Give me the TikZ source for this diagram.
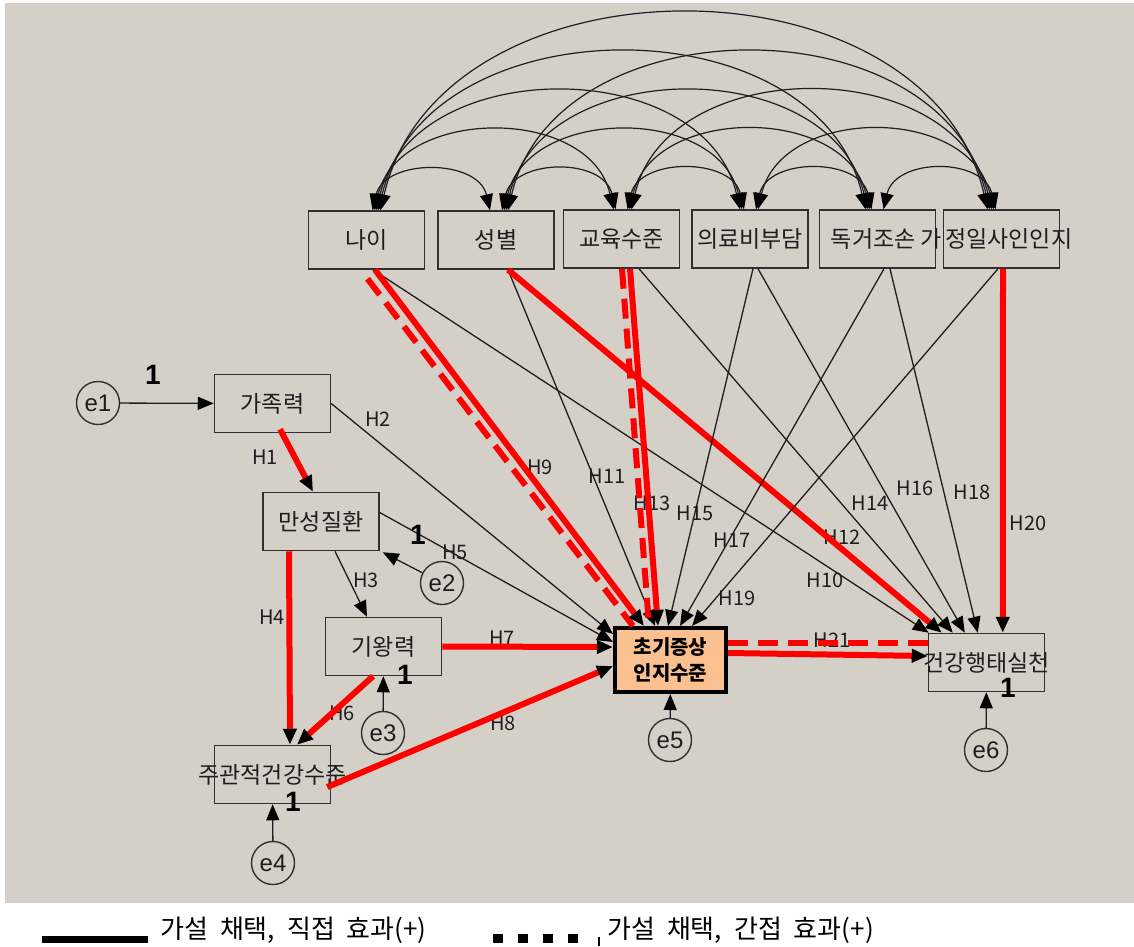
\documentclass[tikz,border=0pt]{standalone}
\usepackage{fontspec}
\setmainfont{Noto Sans CJK KR}
\newfontfamily\numfont{Liberation Sans}
\usetikzlibrary{arrows.meta,calc}
\definecolor{panel}{HTML}{D4D0C8}
\definecolor{peach}{HTML}{FAC090}
\definecolor{edge}{HTML}{303030}
\definecolor{hyp}{HTML}{FF0000}
\definecolor{ink}{HTML}{1E1E1E}
\tikzset{
  headtip/.tip={Triangle[length=16pt,width=13pt,color=black]},
}
\begin{document}
\begin{tikzpicture}[x=1pt,y=-1pt,
  var/.style={draw=edge, line width=1.5pt, fill=panel, minimum width=116pt,
    minimum height=58pt, inner sep=0pt},
  boxtxt/.style={font=\fontsize{23}{23}\selectfont, text=ink, inner sep=0pt},
  focal/.style={draw=black, line width=4pt, fill=peach, minimum width=111pt,
    minimum height=64pt, inner sep=0pt, align=center,
    font=\bfseries\fontsize{20}{26}\selectfont},
  err/.style={draw=edge, circle, line width=1.4pt, minimum size=43pt, inner sep=0pt,
    font=\numfont\fontsize{24}{24}\selectfont, text=ink},
  hlab/.style={font=\fontsize{20}{20}\selectfont, text=ink, inner sep=0pt},
  one/.style={font=\numfont\bfseries\fontsize{28}{28}\selectfont, inner sep=0pt},
  thinpath/.style={draw=ink, line width=1.3pt, arrows=-headtip},
  redpath/.style={draw=hyp, line width=6pt, arrows=-headtip},
  reddash/.style={draw=hyp, line width=6pt, dash pattern=on 20pt off 10pt},
  cov/.style={draw=ink, line width=1.2pt, arrows=headtip-headtip},
  legtxt/.style={font=\fontsize{26}{26}\selectfont, inner sep=0pt, anchor=west},
]
\useasboundingbox (0,0) rectangle (1134,946);
\fill[panel] (5,3) rectangle (1134,903);

% path labels (drawn first so the paths run over them)
\node[hlab] (h1) at (265,457) {H1};
\node[hlab] (h2) at (378,419) {H2};
\node[hlab] (h3) at (366,580) {H3};
\node[hlab] (h4) at (272,617) {H4};
\node[hlab] (h5) at (455,552) {H5};
\node[hlab] (h6) at (342,713) {H6};
\node[hlab] (h7) at (502,638) {H7};
\node[hlab] (h8) at (503,723) {H8};
\node[hlab] (h9) at (540,467) {H9};
\node[hlab] (h10) at (825,580) {H10};
\node[hlab] (h11) at (607,476) {H11};
\node[hlab] (h12) at (842,537) {H12};
\node[hlab] (h13) at (652,503) {H13};
\node[hlab] (h14) at (870,503) {H14};
\node[hlab] (h15) at (695,513) {H15};
\node[hlab] (h16) at (915,488) {H16};
\node[hlab] (h17) at (732,540) {H17};
\node[hlab] (h18) at (972,492) {H18};
\node[hlab] (h19) at (737,598) {H19};
\node[hlab] (h20) at (1028,523) {H20};
\node[hlab] (h21) at (832,640) {H21};

% exogenous variables
\node[var, label={[boxtxt]center:나이}] (t1) at (366.5,240) {};
\node[var, label={[boxtxt]center:성별}] (t2) at (496,240) {};
\node[var, label={[boxtxt]center:교육수준}] (t3) at (621.5,239) {};
\node[var, label={[boxtxt]center:의료비부담}] (t4) at (750,239) {};
\node[var] (t5) at (877.5,239) {};
\node[boxtxt, anchor=east] (t5txt) at (942,239) {독거조손 가};
\node[var] (t6) at (1001.5,239) {};
\node[boxtxt, anchor=west] (t6txt) at (945,239) {정일사인인지};

% mediators and outcomes
\node[var, label={[boxtxt]center:가족력}] (fam) at (272.5,403.5) {};
\node[var, label={[boxtxt]center:만성질환}] (chr) at (321,521.5) {};
\node[var, label={[boxtxt]center:기왕력}] (pst) at (383.5,646.5) {};
\node[var, label={[boxtxt]center:주관적건강수준}] (sbj) at (272.5,774.5) {};
\node[focal] (ear) at (670.5,660) {초기증상\\인지수준};
\node[var, label={[boxtxt]center:건강행태실천}] (hlt) at (986.5,662.5) {};

% error terms
\node[err] (e1) at (98,403) {e1};
\node[err] (e2) at (442,583) {e2};
\node[err] (e3) at (383,733) {e3};
\node[err] (e4) at (273,863) {e4};
\node[err] (e5) at (670,740) {e5};
\node[err] (e6) at (986,750) {e6};

% covariances among the exogenous variables
\foreach \i in {1,...,5}{
  \pgfmathtruncatemacro\jstart{\i+1}
  \foreach \j in {\jstart,...,6}{
    \pgfmathtruncatemacro\gap{\j-\i}
    \draw[cov] ($(t\i.north)+(4+2*\gap,0)$)
      .. controls +(12*\gap,-52*\gap) and +(-12*\gap,-52*\gap) ..
      ($(t\j.north)+(-4-2*\gap,0)$);
  }
}

% paths from the exogenous variables
\draw[thinpath] ($(t1.south)+(6.5,0)$) -- ($(hlt.north west)+(1,0)$);
\draw[reddash] ($(t1.south)+(1,9)$) -- ($(ear.north west)+(20,0)$);
\draw[redpath] ($(t1.south)+(8.5,0)$) -- ($(ear.north west)+(31,0)$);
\draw[thinpath] ($(t2.south)+(12,0)$) -- ($(ear.north west)+(42,0)$);
\draw[redpath] ($(t2.south)+(12,0)$) -- ($(hlt.north west)+(14,0)$);
\draw[thinpath] ($(t3.south)+(17.5,0)$) -- ($(hlt.north west)+(25,0)$);
\draw[reddash] ($(t3.south)+(0.5,0)$) -- ($(ear.north west)+(36,0)$);
\draw[redpath] ($(t3.south)+(8.5,0)$) -- ($(ear.north west)+(45,0)$);
\draw[thinpath] ($(t4.south)+(3,0)$) -- ($(ear.north west)+(55,0)$);
\draw[thinpath] ($(t4.south)+(8,0)$) -- ($(hlt.north west)+(37,0)$);
\draw[thinpath] ($(t5.south)+(6.5,0)$) -- ($(ear.north west)+(67,0)$);
\draw[thinpath] ($(t5.south)+(12.5,0)$) -- ($(hlt.north west)+(50,0)$);
\draw[thinpath] ($(t6.south)+(-3.5,0)$) -- ($(ear.north west)+(79,0)$);
\draw[redpath] ($(t6.south)+(1.5,0)$) -- ($(hlt.north west)+(75,0)$);

% paths among the health variables
\draw[redpath] ($(fam.south)+(7.5,-4)$) -- ($(chr.north)+(-8,0)$);
\draw[thinpath] (fam.east) -- ($(ear.north west)+(0,8)$);
\draw[thinpath] ($(chr.south)+(14,0)$) -- ($(pst.north)+(-16.5,0)$);
\draw[redpath] ($(chr.south)+(-32,0)$) -- ($(sbj.north)+(17.5,0)$);
\draw[thinpath] ($(chr.east)+(0,-9)$) -- ($(ear.north west)+(0,16)$);
\draw[redpath] ($(pst.south)+(-10.5,0)$) -- ($(sbj.north)+(24.5,0)$);
\draw[redpath] (pst.east) -- ($(ear.west)+(0,-13)$);
\draw[redpath] ($(sbj.east)+(-4,12.5)$) -- ($(ear.west)+(0,6)$);
\draw[reddash] ($(ear.east)+(0,-17)$) -- ($(hlt.west)+(0,-19.5)$);
\draw[redpath] ($(ear.east)+(0,-7)$) -- ($(hlt.west)+(0,-6.5)$);

% error paths
\draw[thinpath] (e1) -- (fam);
\draw[thinpath] (e2) -- ($(chr.south east)+(3,1)$);
\draw[thinpath] (e3) -- (pst);
\draw[thinpath] (e4) -- (sbj);
\draw[thinpath] (e5) -- (ear);
\draw[thinpath] (e6) -- (hlt);

% fixed loadings
\node[one] (w1) at (153,375) {1};
\node[one] (w2) at (418,535) {1};
\node[one] (w3) at (405,675) {1};
\node[one] (w4) at (293,802) {1};
\node[one] (w6) at (1008,688) {1};

% legend
\draw[line width=7pt] (42,939) -- (148,939);
\node[legtxt] (leg1) at (160,930) {가설\hspace{12pt}채택,\hspace{12pt}직접\hspace{12pt}효과(+)};
\foreach \x in {493,518,543,568} \fill (\x,934) rectangle ++(10,9);
\draw[line width=1.2pt] (599,937) -- (599,946);
\node[legtxt] (leg2) at (607,930) {가설\hspace{12pt}채택,\hspace{12pt}간접\hspace{12pt}효과(+)};
\end{tikzpicture}
\end{document}
